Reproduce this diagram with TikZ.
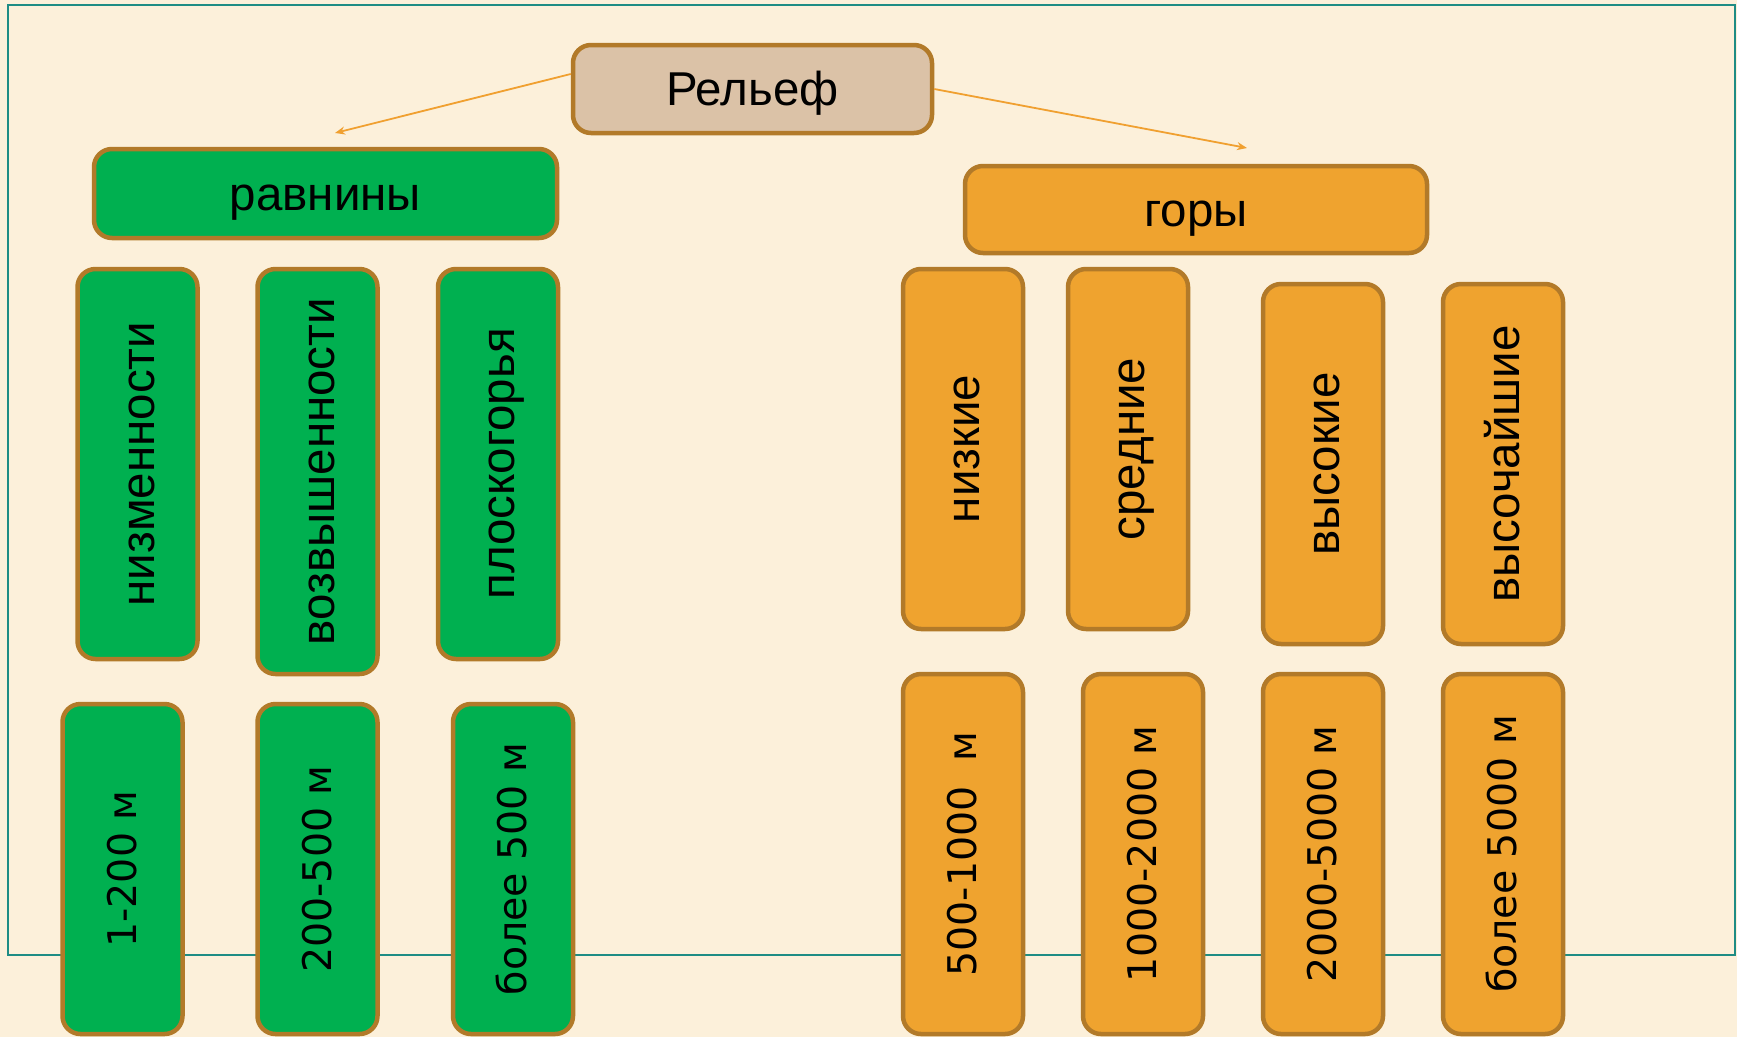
\documentclass[tikz,border=0pt]{standalone}
\usepackage{fontspec}
\setmainfont{Liberation Sans}
\newfontfamily\dvfont{DejaVu Sans}
\usetikzlibrary{arrows.meta}
\definecolor{bgcol}{HTML}{FCF0DA}
\definecolor{framecol}{HTML}{1E8C84}
\definecolor{bordcol}{HTML}{B27A29}
\definecolor{greencol}{HTML}{00B050}
\definecolor{orangecol}{HTML}{EFA32F}
\definecolor{tancol}{HTML}{DBC2A7}
\definecolor{arrowcol}{HTML}{F0A030}
\tikzset{
  box/.style={draw=bordcol, line width=4.5pt, rounded corners=18pt, inner sep=0pt, text=black, align=center},
  hbox/.style={box, font=\fontsize{47.5}{52}\selectfont, text height=43pt, text depth=10pt},
  vbox/.style={box, rotate=90, minimum height=120pt, font=\fontsize{47.5}{52}\selectfont, text height=43pt, text depth=10pt},
  mbox/.style={box, rotate=90, minimum height=120pt, font=\dvfont\fontsize{39.5}{44}\selectfont, text height=36.7pt, text depth=9.3pt},
  gfill/.style={fill=greencol},
  ofill/.style={fill=orangecol},
  conn/.style={draw=arrowcol, line width=1.8pt, -{Stealth[length=10pt,width=8pt]}}
}
\begin{document}
\begin{tikzpicture}[x=1pt,y=-1pt]
\useasboundingbox (0,0) rectangle (1737,1037);
\fill[bgcol] (0,0) rectangle (1737,1037);
\draw[framecol, line width=2pt] (8,5) rectangle (1735,955);

\node[hbox, fill=tancol, minimum width=359pt, minimum height=88pt] (rel) at (752.5,89) {Рельеф};
\node[hbox, gfill, minimum width=463pt, minimum height=89pt] (rav) at (325.5,193.5) {равнины};
\node[hbox, ofill, minimum width=462pt, minimum height=87pt] (gor) at (1196,209.5) {горы};

\coordinate (endL) at (335,133);
\coordinate (endR) at (1247,148);
\draw[conn] ([yshift=15pt]rel.west) -- (endL);
\draw[conn] (rel.east) -- (endR);

\node[vbox, gfill, minimum width=390pt] (n1) at (137.5,464) {низменности};
\node[vbox, gfill, minimum width=405pt] (n2) at (317.5,471.5) {возвышенности};
\node[vbox, gfill, minimum width=390pt] (n3) at (498,464) {плоскогорья};

\node[mbox, gfill, minimum width=330pt] (b1) at (122.5,869) {1-200 м};
\node[mbox, gfill, minimum width=330pt] (b2) at (317.5,869) {200-500 м};
\node[mbox, gfill, minimum width=330pt] (b3) at (513,869) {более 500 м};

\node[vbox, ofill, minimum width=360pt] (o1) at (963,449) {низкие};
\node[vbox, ofill, minimum width=360pt] (o2) at (1128,449) {средние};
\node[vbox, ofill, minimum width=360pt] (o3) at (1323,464) {высокие};
\node[vbox, ofill, minimum width=360pt] (o4) at (1503,464) {высочайшие};

\node[mbox, ofill, minimum width=360pt] (p1) at (963,854) {500-1000\ \ м};
\node[mbox, ofill, minimum width=360pt] (p2) at (1143,854) {1000-2000 м};
\node[mbox, ofill, minimum width=360pt] (p3) at (1323,854) {2000-5000 м};
\node[mbox, ofill, minimum width=360pt] (p4) at (1503,854) {более 5000 м};
\end{tikzpicture}
\end{document}
